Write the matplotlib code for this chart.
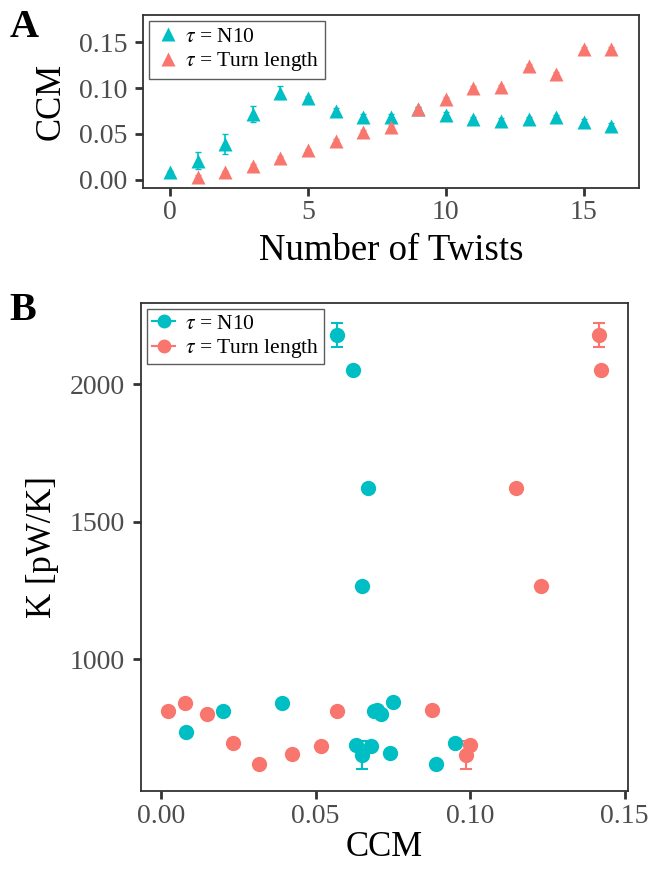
import numpy as np
import matplotlib
matplotlib.use("Agg")
import matplotlib.pyplot as plt
from matplotlib.lines import Line2D

plt.rcParams['font.family'] = ['Liberation Serif', 'DejaVu Serif']
plt.rcParams['mathtext.fontset'] = 'stix'

# panel A: CCM vs number of twists
twists = list(range(17))
ccm_n10 = [0.008, 0.021, 0.039, 0.072, 0.095, 0.089, 0.075, 0.069, 0.069, 0.077,
           0.071, 0.066, 0.064, 0.066, 0.068, 0.063, 0.059]
ccm_n10_err = [0.002, 0.009, 0.011, 0.009, 0.007, 0.003, 0.003, 0.003, 0.003, 0.003,
               0.003, 0.003, 0.003, 0.003, 0.003, 0.003, 0.003]
ccm_tl = [np.nan, 0.003, 0.008, 0.015, 0.024, 0.032, 0.042, 0.052, 0.058, 0.077,
          0.088, 0.100, 0.101, 0.124, 0.116, 0.143, 0.143]
ccm_tl_err = [np.nan] + [0.002] * 16

# panel B: K vs CCM
b_ccm_n10 = [0.008, 0.020, 0.039, 0.071, 0.095, 0.089, 0.074, 0.068, 0.069, 0.075,
             0.070, 0.063, 0.065, 0.065, 0.067, 0.062, 0.057]
b_k_n10 = [735, 811, 840, 800, 695, 618, 658, 684, 811, 844, 815, 687, 651,
           1265, 1622, 2051, 2178]
b_k_n10_err = [8, 8, 8, 8, 8, 8, 8, 8, 8, 8, 8, 8, 51, 8, 8, 8, 44]

b_ccm_tl = [0.0023, 0.0078, 0.0149, 0.0233, 0.0317, 0.0424, 0.0518, 0.057, 0.0877,
            0.100, 0.0987, 0.123, 0.115, 0.1424, 0.1417]
b_k_tl = [811, 840, 800, 695, 618, 655, 684, 811, 815, 687, 651, 1265, 1622, 2051, 2178]
b_k_tl_err = [8, 8, 8, 8, 8, 8, 8, 8, 8, 8, 51, 8, 8, 8, 44]

teal = '#00BFC4'
red = '#F8766D'
tick_col = '#4D4D4D'
spine_col = '#333333'
labels = [r'$\tau$ = N10', r'$\tau$ = Turn length']

fig = plt.figure(figsize=(6.52, 8.73), dpi=100)


def style_axes(ax):
    for s in ax.spines.values():
        s.set_color(spine_col)
        s.set_linewidth(1.3)
    ax.tick_params(axis='both', colors=spine_col, labelcolor=tick_col,
                   labelsize=20, length=5.5, width=2)
    ax.tick_params(axis='y', pad=6)


def style_legend(leg):
    leg.get_frame().set_edgecolor(spine_col)
    leg.get_frame().set_linewidth(1.0)


# ---- A ----
axA = fig.add_axes([0.2193, 0.7847, 0.7607, 0.1981])
axA.errorbar(twists, ccm_n10, yerr=ccm_n10_err, fmt='^', color=teal, ms=10,
             capsize=2.5, elinewidth=1.2, mec='none')
axA.errorbar(twists, ccm_tl, yerr=ccm_tl_err, fmt='^', color=red, ms=10,
             capsize=2.5, elinewidth=1.2, mec='none')
axA.set_xlim(-0.98, 17.0)
axA.set_ylim(-0.009, 0.180)
axA.set_xticks([0, 5, 10, 15])
axA.set_yticks([0.00, 0.05, 0.10, 0.15])
axA.set_yticklabels(['0.00', '0.05', '0.10', '0.15'])
axA.set_xlabel('Number of Twists', fontsize=26.5, labelpad=6)
axA.set_ylabel('CCM', fontsize=25, labelpad=8)
style_axes(axA)
legA_handles = [Line2D([], [], ls='none', marker='^', color=teal, ms=10, mec='none'),
                Line2D([], [], ls='none', marker='^', color=red, ms=10, mec='none')]
legA = axA.legend(legA_handles, labels, loc='upper left', fontsize=15.5,
                  frameon=True, fancybox=False, borderpad=0.25, labelspacing=0.15,
                  handletextpad=0.2, handlelength=1.2, borderaxespad=0.3)
style_legend(legA)
fig.text(0.015, 0.958, 'A', fontsize=29, fontweight='bold')

# ---- B ----
axB = fig.add_axes([0.2163, 0.0939, 0.7469, 0.559])
axB.errorbar(b_ccm_n10, b_k_n10, yerr=b_k_n10_err, fmt='o', color=teal, ms=11,
             capsize=4, elinewidth=1.5, capthick=1.5, mec='none')
axB.errorbar(b_ccm_tl, b_k_tl, yerr=b_k_tl_err, fmt='o', color=red, ms=11,
             capsize=4, elinewidth=1.5, capthick=1.5, mec='none')
axB.set_xlim(-0.0065, 0.1511)
axB.set_ylim(520, 2295)
axB.set_xticks([0.00, 0.05, 0.10, 0.15])
axB.set_xticklabels(['0.00', '0.05', '0.10', '0.15'])
axB.set_yticks([1000, 1500, 2000])
axB.set_xlabel('CCM', fontsize=25, labelpad=2)
axB.set_ylabel('K [pW/K]', fontsize=25, labelpad=8)
style_axes(axB)
legB_handles = [Line2D([], [], ls='-', lw=1.5, marker='o', color=teal, ms=10, mec='none'),
                Line2D([], [], ls='-', lw=1.5, marker='o', color=red, ms=10, mec='none')]
legB = axB.legend(legB_handles, labels, loc='upper left', fontsize=15.5,
                  frameon=True, fancybox=False, borderpad=0.2, labelspacing=0.15,
                  handletextpad=0.45, handlelength=1.1, borderaxespad=0.3)
style_legend(legB)
fig.text(0.015, 0.633, 'B', fontsize=29, fontweight='bold')

fig.savefig('out.png', dpi=100)
